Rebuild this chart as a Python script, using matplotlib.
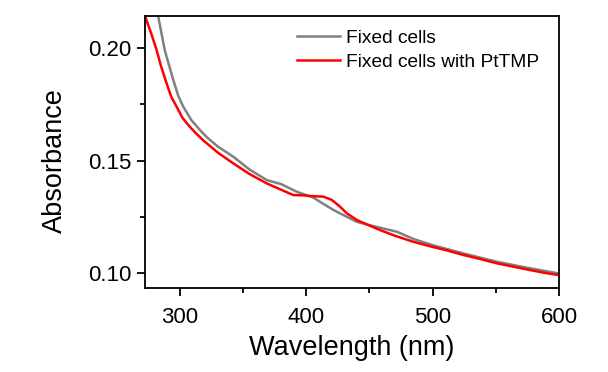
import numpy as np
import matplotlib.pyplot as plt

plt.rcParams['font.family'] = ['Liberation Sans', 'DejaVu Sans']

# Fixed cells (gray)
wl_fixed = [280.5, 282.8, 288.0, 294.7, 298.5, 302.6, 309.0, 315.8, 322.0, 330.0,
            342.2, 355.0, 368.7, 380.0, 392.4, 405.6, 412.0, 421.4, 430.0,
            440.0, 455.0, 471.6, 485.0, 499.3, 515.0, 530.0, 550.8, 575.0, 599.6]
abs_fixed = [0.2200, 0.2141, 0.1990, 0.1859, 0.1790, 0.1740, 0.1680, 0.1636, 0.1600, 0.1562,
             0.1517, 0.1460, 0.1413, 0.1395, 0.1361, 0.1335, 0.1312, 0.1280, 0.1255,
             0.1227, 0.1205, 0.1183, 0.1150, 0.1124, 0.1100, 0.1078, 0.1049, 0.1022, 0.0997]

# Fixed cells with PtTMP (red)
wl_pttmp = [272.3, 277.0, 281.5, 285.0, 289.4, 293.0, 297.3, 302.0, 307.8, 312.0,
            318.4, 330.0, 342.0, 355.0, 368.7, 380.0, 389.7, 397.6, 402.9, 413.5,
            420.0, 426.0, 432.0, 440.0, 448.0, 458.4, 470.0, 484.7, 499.3, 511.0,
            524.3, 537.0, 550.8, 563.0, 577.1, 590.0, 599.6]
abs_pttmp = [0.2144, 0.2070, 0.1992, 0.1920, 0.1844, 0.1785, 0.1740, 0.1690, 0.1650, 0.1625,
             0.1590, 0.1535, 0.1488, 0.1440, 0.1398, 0.1370, 0.1346, 0.1345, 0.1342, 0.1339,
             0.1325, 0.1298, 0.1265, 0.1235, 0.1215, 0.1190, 0.1165, 0.1138, 0.1116, 0.1100,
             0.1079, 0.1062, 0.1042, 0.1028, 0.1012, 0.0998, 0.0990]

fig = plt.figure(figsize=(6.08, 3.72), dpi=100)
ax = fig.add_axes([145/608, 1 - 288/372, (559-145)/608, (288-16)/372])

ax.plot(wl_fixed, abs_fixed, color='#808080', lw=1.8, label='Fixed cells')
ax.plot(wl_pttmp, abs_pttmp, color='#ff0000', lw=1.8, label='Fixed cells with PtTMP')

ax.set_xlim(272.3, 600)
ax.set_ylim(0.0932, 0.2144)
ax.set_xticks([300, 400, 500, 600])
ax.set_xticks([350, 450, 550], minor=True)
ax.set_yticks([0.10, 0.15, 0.20])
ax.set_yticks([0.125, 0.175], minor=True)
ax.set_yticklabels(['0.10', '0.15', '0.20'])
ax.tick_params(which='major', direction='out', length=6, width=1.3, labelsize=16)
ax.tick_params(axis='x', which='major', pad=8)
ax.tick_params(which='minor', direction='out', length=3.5, width=1.3)
for s in ax.spines.values():
    s.set_linewidth(1.3)

ax.set_xlabel('Wavelength (nm)', fontsize=19.5, labelpad=5)
ax.set_ylabel('Absorbance', fontsize=19.5)
ax.yaxis.set_label_coords(-0.185, 0.467)

ax.legend(loc='upper right', fontsize=13.8, frameon=False, handlelength=2.2,
          handletextpad=0.35, borderaxespad=0.3, labelspacing=0.35,
          bbox_to_anchor=(0.985, 1.0))

fig.savefig('out.png', dpi=100)
